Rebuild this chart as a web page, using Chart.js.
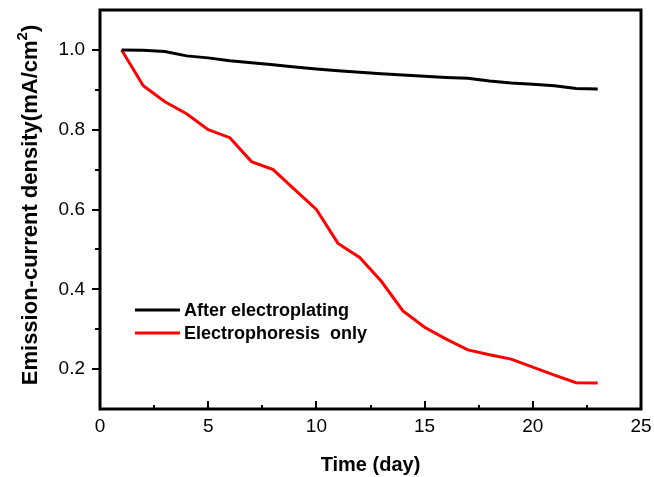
<!DOCTYPE html>
<html>
<head>
<meta charset="utf-8">
<script src="https://cdn.jsdelivr.net/npm/chart.js@4.4.0/dist/chart.umd.min.js"></script>
<style>
  html, body { margin: 0; padding: 0; background: #fff; }
  #wrap { width: 654px; height: 477px; }
</style>
</head>
<body>
<div id="wrap"><canvas id="chart" width="654" height="477"></canvas></div>
<script>
// values
const days = [1, 2, 3, 4, 5, 6, 7, 8, 9, 10, 11, 12, 13, 14, 15, 16, 17, 18, 19, 20, 21, 22, 23];
const afterPlating = [1.000, 0.999, 0.996, 0.985, 0.980, 0.973, 0.968, 0.963, 0.957, 0.952, 0.948, 0.944,
  0.940, 0.937, 0.934, 0.931, 0.929, 0.922, 0.917, 0.914, 0.910, 0.903, 0.902];
const electrophoresisOnly = [1.00, 0.91, 0.87, 0.84, 0.80, 0.78, 0.72, 0.70, 0.65, 0.60, 0.515, 0.48,
  0.42, 0.346, 0.305, 0.275, 0.248, 0.236, 0.225, 0.205, 0.185, 0.166, 0.165];
const seriesLabels = ['After electroplating', 'Electrophoresis  only'];
const seriesColors = ['#000000', '#ff0000'];

const xTicks = [0, 5, 10, 15, 20, 25];
const xMinorTicks = [2.5, 7.5, 12.5, 17.5, 22.5];
const yTicks = [0.2, 0.4, 0.6, 0.8, 1.0];
const yMinorTicks = [0.3, 0.5, 0.7, 0.9];

const FONT = "'Liberation Sans', Arial, sans-serif";

function toPoints(ys) {
  return days.map((d, i) => ({ x: d, y: ys[i] }));
}

// tick marks, frame, y title with superscript and the in-plot legend
const decorPlugin = {
  id: 'decor',
  afterDatasetsDraw(chart) {
    const { ctx, chartArea: a, scales: { x, y } } = chart;
    ctx.save();
    ctx.strokeStyle = '#000';
    ctx.lineWidth = 2;
    ctx.beginPath();
    yTicks.forEach(v => {
      const py = Math.round(y.getPixelForValue(v));
      ctx.moveTo(a.left, py); ctx.lineTo(a.left - 8, py);
    });
    yMinorTicks.forEach(v => {
      const py = Math.round(y.getPixelForValue(v));
      ctx.moveTo(a.left, py); ctx.lineTo(a.left - 5, py);
    });
    xTicks.forEach(v => {
      const px = Math.round(x.getPixelForValue(v));
      ctx.moveTo(px, a.bottom); ctx.lineTo(px, a.bottom - 8);
    });
    xMinorTicks.forEach(v => {
      const px = Math.round(x.getPixelForValue(v));
      ctx.moveTo(px, a.bottom); ctx.lineTo(px, a.bottom - 4);
    });
    ctx.stroke();

    ctx.lineWidth = 3;
    ctx.strokeRect(a.left, a.top, a.right - a.left, a.bottom - a.top);

    // y axis title
    ctx.fillStyle = '#000';
    ctx.translate(31, 205);
    ctx.rotate(-Math.PI / 2);
    ctx.textBaseline = 'middle';
    ctx.textAlign = 'left';
    const mainFont = 'bold 22px ' + FONT;
    const supFont = 'bold 15px ' + FONT;
    const t1 = 'Emission-current density(mA/cm', t2 = '2', t3 = ')';
    ctx.font = mainFont;
    const w1 = ctx.measureText(t1).width, w3 = ctx.measureText(t3).width;
    ctx.font = supFont;
    const w2 = ctx.measureText(t2).width;
    let sx = -(w1 + w2 + w3) / 2;
    ctx.font = mainFont;
    ctx.fillText(t1, sx, 0);
    ctx.font = supFont;
    ctx.fillText(t2, sx + w1, -8);
    ctx.font = mainFont;
    ctx.fillText(t3, sx + w1 + w2, 0);
    ctx.setTransform(1, 0, 0, 1, 0, 0);

    // legend
    ctx.font = 'bold 18px ' + FONT;
    ctx.textBaseline = 'middle';
    chart.data.datasets.forEach((ds, i) => {
      const ly = 310 + i * 23;
      ctx.strokeStyle = ds.borderColor;
      ctx.lineWidth = 3;
      ctx.beginPath();
      ctx.moveTo(135, ly); ctx.lineTo(180, ly);
      ctx.stroke();
      ctx.fillStyle = '#000';
      ctx.fillText(ds.label, 184, ly + 1);
    });
    ctx.restore();
  }
};

new Chart(document.getElementById('chart').getContext('2d'), {
  type: 'line',
  data: {
    datasets: [
      { label: seriesLabels[0], data: toPoints(afterPlating), borderColor: seriesColors[0] },
      { label: seriesLabels[1], data: toPoints(electrophoresisOnly), borderColor: seriesColors[1] }
    ]
  },
  options: {
    responsive: false,
    animation: false,
    devicePixelRatio: 1,
    layout: { padding: { top: 10, right: 13, left: 0, bottom: 0 } },
    elements: {
      line: { borderWidth: 3, tension: 0, fill: false },
      point: { radius: 0 }
    },
    plugins: {
      legend: { display: false },
      tooltip: { enabled: false }
    },
    scales: {
      x: {
        type: 'linear',
        min: 0,
        max: 25,
        afterBuildTicks: s => { s.ticks = xTicks.map(v => ({ value: v })); },
        afterFit: s => { s.height = 68; s.paddingLeft = 0; s.paddingRight = 0; },
        grid: { display: false, drawTicks: false },
        border: { display: false },
        ticks: { color: '#000', font: { family: FONT, size: 19 }, padding: 6, maxRotation: 0, autoSkip: false },
        title: {
          display: true,
          text: 'Time (day)',
          color: '#000',
          font: { family: FONT, size: 20, weight: 'bold', lineHeight: 1.2 },
          padding: { top: 0, bottom: 0 }
        }
      },
      y: {
        min: 0.1,
        max: 1.1,
        afterBuildTicks: s => { s.ticks = yTicks.map(v => ({ value: v })); },
        afterFit: s => { s.width = 100; s.paddingTop = 0; s.paddingBottom = 0; },
        grid: { display: false, drawTicks: false },
        border: { display: false },
        ticks: { color: '#000', font: { family: FONT, size: 19 }, padding: 15, callback: v => v.toFixed(1) }
      }
    }
  },
  plugins: [decorPlugin]
});
</script>
</body>
</html>
